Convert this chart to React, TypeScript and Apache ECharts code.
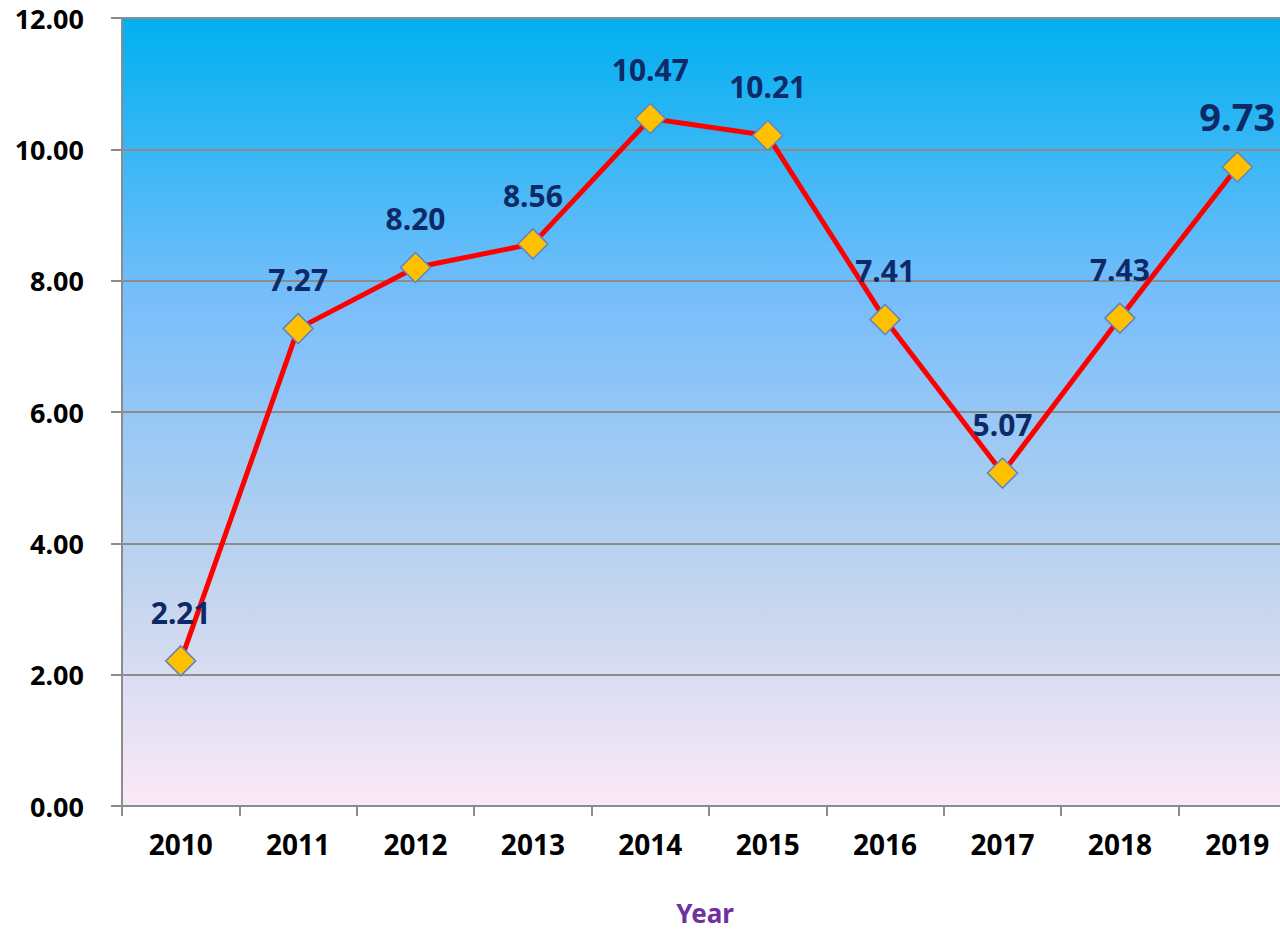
import React, { useEffect, useRef } from "react";
import * as echarts from "echarts";

const years = ["2010", "2011", "2012", "2013", "2014", "2015", "2016", "2017", "2018", "2019"];
const values = [2.21, 7.27, 8.2, 8.56, 10.47, 10.21, 7.41, 5.07, 7.43, 9.73];

export default function App() {
  const ref = useRef<HTMLDivElement>(null);
  useEffect(() => {
    const chart = echarts.init(ref.current!, null, { renderer: "svg" });
    const font = "'Noto Sans', 'Open Sans', sans-serif";
    chart.setOption({
      animation: false,
      grid: {
        left: 122,
        right: -16,
        top: 18,
        bottom: 125,
        containLabel: false,
        outerBoundsMode: "none",
        show: true,
        borderWidth: 0,
        backgroundColor: {
          type: "linear",
          x: 0, y: 0, x2: 0, y2: 1,
          colorStops: [
            { offset: 0, color: "#00B0F0" },
            { offset: 0.36, color: "#78BEFB" },
            { offset: 0.7, color: "#BDD3EE" },
            { offset: 1, color: "#FCE9F7" },
          ],
        },
      },
      xAxis: {
        type: "category",
        data: years,
        boundaryGap: true,
        name: "Year",
        nameLocation: "middle",
        nameGap: 94,
        nameTextStyle: { color: "#7030A0", fontSize: 26, fontWeight: "bold", fontFamily: font, padding: [0, 8, 0, 0] },
        axisLine: { lineStyle: { color: "#8C8C8C", width: 2 } },
        axisTick: { show: true, length: 10, lineStyle: { color: "#8C8C8C", width: 2 } },
        axisLabel: { color: "#000", fontSize: 28, fontWeight: "bold", fontFamily: font, margin: 24 },
      },
      yAxis: {
        type: "value",
        min: 0,
        max: 12,
        interval: 2,
        axisLine: { show: true, lineStyle: { color: "#8C8C8C", width: 2 } },
        axisTick: { show: true, length: 11, lineStyle: { color: "#8C8C8C", width: 2 } },
        axisLabel: {
          color: "#000",
          fontSize: 27,
          fontWeight: "bold",
          fontFamily: font,
          margin: 38,
          formatter: (v: number) => v.toFixed(2),
        },
        splitLine: { lineStyle: { color: "#8C8C8C", width: 2 } },
      },
      series: [
        {
          type: "line",
          data: values.map((v, i) => ({
            value: v,
            label:
              i === values.length - 1
                ? { fontSize: 38, distance: 16 }
                : undefined,
          })),
          lineStyle: { color: "#FF0000", width: 5 },
          symbol: "diamond",
          symbolSize: 30,
          itemStyle: { color: "#FFC000", borderColor: "#5B86C0", borderWidth: 1.5 },
          label: {
            show: true,
            position: "top",
            distance: 18,
            color: "#0E2A66",
            fontSize: 30,
            fontWeight: "bold",
            fontFamily: font,
            formatter: (p: any) => Number(p.value).toFixed(2),
          },
          z: 3,
        },
      ],
    });
    return () => chart.dispose();
  }, []);
  return (
    <div
      ref={ref}
      style={{ position: "absolute", left: 0, top: 0, width: 1280, height: 931, background: "#fff", overflow: "hidden" }}
    />
  );
}
